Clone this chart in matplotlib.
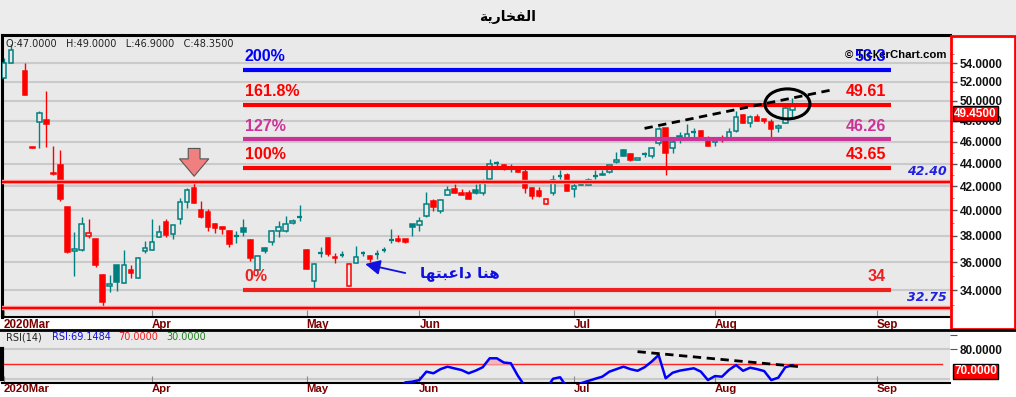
import numpy as np
import matplotlib.pyplot as plt
from matplotlib.patches import Rectangle, Ellipse
from matplotlib.lines import Line2D
from matplotlib.ticker import FixedLocator, FixedFormatter, NullFormatter

nan = np.nan

# daily bars (one slot per trading day, nan = empty slot)
opens = [52.44, 54.0, nan, 53.1, 45.55, 47.91, 48.08, 43.2, 43.9, 40.24,
         36.85, 36.9, 38.0, 37.73, 35.06, 34.3, 35.8, 34.52, 35.45, 34.85,
         36.8, 36.9, 37.85, 39.1, 38.1, 39.3, 40.68, 41.9, 40.0, 39.9,
         38.9, 38.7, 38.38, 37.95, 38.55, 37.66, 35.4, 37.05, 37.48, 38.33,
         38.38, 39.0, 39.45, 36.92, 34.64, 36.68, 37.8, 36.38, 36.5, 34.3,
         35.93, 36.63, 36.45, 36.58, 36.9, 37.64, 37.73, 37.73, 38.9, 38.83,
         39.52, 40.8, 39.93, 41.25, 41.8, 41.43, 41.4, 41.72, 41.43, 42.67,
         44.0, 43.9, 43.6, 43.7, 43.25, 41.9, 41.6, 40.55, 41.4, 42.9,
         42.95, 41.8, 42.17, 42.1, 42.85, 43.1, 43.25, 44.15, 45.27, 44.9,
         44.35, 44.88, 44.7, 45.85, 47.28, 45.45, 46.55, 46.4, 46.88, 47.0,
         46.25, 45.95, 46.23, 46.25, 47.0, 48.58, 47.85, 48.35, 48.15, 47.9,
         47.28, 47.84, 49.05]
highs = [54.55, 56.2, nan, 54.0, 45.55, 48.98, 51.0, 45.6, 45.2, 40.3,
         38.25, 39.5, 39.27, 37.75, 35.15, 35.06, 35.8, 36.9, 35.77, 36.4,
         37.6, 39.27, 38.85, 39.27, 38.85, 41.05, 41.85, 42.4, 40.8, 40.13,
         38.95, 38.72, 38.4, 38.33, 39.3, 37.7, 36.5, 37.1, 38.4, 39.17,
         39.57, 39.3, 40.4, 36.95, 35.9, 37.1, 37.85, 36.7, 36.85, 35.9,
         37.22, 36.85, 36.5, 36.9, 37.13, 38.5, 38.05, 37.75, 38.92, 39.5,
         41.5, 40.95, 40.9, 42.0, 42.23, 41.8, 41.66, 42.23, 42.67, 44.46,
         44.2, 43.95, 44.0, 43.75, 43.5, 41.95, 41.95, 40.97, 42.95, 43.4,
         43.15, 42.52, 42.5, 42.75, 43.4, 43.45, 43.9, 45.1, 45.3, 44.95,
         44.5, 45.05, 45.5, 47.4, 47.3, 46.3, 46.9, 47.75, 47.28, 47.1,
         46.55, 46.3, 46.6, 47.28, 49.0, 48.68, 48.58, 48.68, 48.17, 48.15,
         47.75, 49.7, 50.3]
lows = [52.44, 54.0, nan, 50.6, 45.45, 45.46, 45.55, 43.0, 40.75, 36.7,
        34.99, 36.84, 37.8, 35.65, 32.75, 33.83, 33.94, 34.5, 34.85, 34.85,
        36.7, 36.9, 37.85, 37.85, 37.7, 38.9, 40.2, 40.6, 39.35, 38.38,
        38.18, 38.12, 37.1, 37.44, 37.95, 36.07, 35.4, 36.65, 37.28, 37.85,
        38.25, 38.9, 39.17, 35.5, 33.94, 36.4, 36.45, 35.9, 36.35, 34.3,
        35.93, 36.47, 36.0, 36.2, 36.75, 37.4, 37.52, 37.43, 37.95, 38.33,
        39.5, 39.93, 39.77, 41.25, 41.43, 41.25, 40.9, 41.32, 41.25, 42.67,
        43.75, 43.45, 43.25, 43.25, 41.43, 40.9, 41.1, 40.55, 41.25, 42.6,
        41.6, 41.1, 42.1, 42.1, 42.6, 42.98, 43.15, 44.05, 44.7, 44.2,
        44.35, 44.6, 44.5, 45.7, 43.0, 44.93, 45.9, 46.4, 46.35, 46.4,
        45.58, 45.62, 46.0, 46.25, 46.9, 47.76, 47.43, 48.0, 47.8, 46.3,
        46.95, 47.84, 48.35]
closes = [54.0, 55.49, nan, 50.6, 45.45, 48.75, 47.66, 43.05, 40.9, 36.77,
          36.95, 38.9, 38.2, 35.8, 33.2, 34.45, 34.55, 35.75, 35.2, 36.33,
          37.05, 37.47, 38.3, 38.05, 38.85, 40.68, 41.72, 40.6, 39.45, 38.65,
          38.55, 38.48, 37.37, 38.0, 38.25, 36.3, 36.43, 36.84, 38.38, 38.7,
          38.87, 39.17, 39.5, 35.5, 35.88, 36.72, 36.6, 36.27, 36.54, 35.88,
          36.35, 36.67, 36.2, 36.62, 36.95, 37.68, 37.6, 37.47, 38.65, 39.17,
          40.55, 40.26, 40.85, 41.72, 41.43, 41.3, 40.92, 41.43, 42.38, 44.0,
          44.05, 43.6, 43.65, 43.25, 41.85, 41.2, 41.15, 40.95, 42.52, 42.95,
          41.63, 42.0, 42.1, 42.58, 42.88, 42.98, 43.9, 44.35, 44.7, 44.3,
          44.5, 44.92, 45.45, 47.18, 44.95, 46.0, 46.3, 46.7, 46.92, 46.45,
          45.62, 46.25, 46.2, 46.9, 48.35, 47.76, 48.35, 48.0, 47.95, 47.18,
          47.55, 49.25, 49.45]

# RSI(14) (values under ~57 are off-panel)
rsi = [nan] * 54 + [
    48, 50, 54, 57.5, 58, 59.1, 64.8, 63.7, 66.5, 68.2,
    67.0, 65.9, 63.7, 65.5, 67.8, 73.9, 73.9, 71.0, 70.5, 62.0,
    55.0, 52.0, 52.0, 53.0, 60.0, 61.0, 54.0, 55.0, 57.0, 58.5,
    60.0, 61.4, 64.8, 66.5, 68.2, 66.5, 65.4, 67.8, 71.6, 76.1,
    60.3, 64.1, 65.5, 66.3, 67.1, 64.8, 59.1, 61.8, 61.4, 66.0,
    69.3, 65.4, 67.5, 66.5, 65.2, 59.1, 60.7, 67.8, 69.15]

month_pos = [0, 21, 43, 59, 81, 101, 124]
month_lbl = ['2020Mar', 'Apr', 'May', 'Jun', 'Jul', 'Aug', 'Sep']

fib_pct = ['200%', '161.8%', '127%', '100%', '0%']
fib_val = [53.3, 49.61, 46.26, 43.65, 34.0]
fib_txt = ['53.3', '49.61', '46.26', '43.65', '34']
fib_col = ['#0000ff', '#ff0000', '#cc3399', '#ff0000', '#ee2020']

hi_level, lo_level = 42.40, 32.75
last_price = 49.45

W, H = 1016, 397
def fx(p): return p / W
def fy(p): return 1 - p / H

TEAL = '#008080'
RED = '#ff0000'
BG = '#e9e9e9'
DATE_C = '#7a0000'

fig = plt.figure(figsize=(10.16, 3.97), dpi=100, facecolor='#ececec')

# white strips (dates / price scale)
for (x0, y0, x1, y1) in [(0, 317, 950, 330), (0, 383, 1016, 397), (950, 35, 1016, 397)]:
    fig.add_artist(Rectangle((fx(x0), fy(y1)), fx(x1) - fx(x0), fy(y0) - fy(y1),
                             transform=fig.transFigure, fc='white', ec='none', zorder=-2))
fig.add_artist(Rectangle((fx(951), fy(329)), fx(1014.5) - fx(951), fy(36) - fy(329),
                         transform=fig.transFigure, fc='none', ec='#ff0000', lw=2, zorder=3))
fig.add_artist(Line2D([0, 1], [fy(330), fy(330)], transform=fig.transFigure, color='black', lw=2, zorder=3))

fig.text(0.5, fy(17), '\ufe94\ufef3\ufead\ufe8e\ufea8\ufed4\ufedf\ufe8d', ha='center', va='center',
         fontsize=10, fontweight='bold', family='DejaVu Sans')

ax = fig.add_axes([fx(2), fy(316.7), fx(950) - fx(2), fy(35) - fy(316.7)])
ax.set_facecolor(BG)
ax.set_yscale('log')
ax.set_ylim(32.2, 57.2)
ax.set_xlim(-0.3, 134.4)

# candles
prev = nan
for i in range(len(closes)):
    o, h, l, c = opens[i], highs[i], lows[i], closes[i]
    if np.isnan(c):
        continue
    col = TEAL if (np.isnan(prev) or c >= prev) else RED
    prev = c
    ax.vlines(i, l, h, color=col, lw=1, zorder=3)
    bot, top = min(o, c), max(o, c)
    if top - bot < 0.06:
        ax.hlines((o + c) / 2, i - 0.33, i + 0.33, color=col, lw=1.6, zorder=4)
        continue
    hollow = c > o
    ax.add_patch(Rectangle((i - 0.32, bot), 0.64, top - bot, fc=BG if hollow else col,
                           ec=col, lw=1.1, zorder=4))

# grid
for v in range(34, 56, 2):
    ax.axhline(v, color='#cacaca', lw=1.5, zorder=1)

# fibonacci levels
for p, v, t, c in zip(fib_pct, fib_val, fib_txt, fib_col):
    ax.hlines(v, 34, 126, color=c, lw=3, zorder=5)
    ax.annotate(p, (34.2, v), xytext=(0, 4), textcoords='offset points', color=c,
                fontsize=11.5, fontweight='bold', family='Liberation Sans', ha='left',
                va='bottom', zorder=6)
for p, v, t, c in zip(fib_pct, fib_val, fib_txt, fib_col):
    ax.annotate(t, (125.3, v), xytext=(0, 4), textcoords='offset points', color=c,
                fontsize=11.5, fontweight='bold', family='Liberation Sans', ha='right',
                va='bottom', zorder=8)

ax.text(0.996, 0.93, '\u00a9 TickerChart.com', transform=ax.transAxes, ha='right', va='center',
        fontsize=8.2, fontweight='bold', family='Liberation Sans', zorder=7)

for v in (hi_level, lo_level):
    ax.axhline(v, color='#ff9a9a', lw=3.2, zorder=5)
    ax.axhline(v, color=RED, lw=1.6, zorder=5)
    ax.annotate('%.2f' % v, (0.997, v), xycoords=('axes fraction', 'data'), xytext=(0, 3),
                textcoords='offset points', ha='right', va='bottom', color='#2020e0',
                fontsize=9, fontweight='bold', fontstyle='italic', family='DejaVu Sans', zorder=6)

# trend line on price
ax.plot([91, 118], [47.28, 51.2], color='black', lw=2, ls=(0, (3, 2)), zorder=7)

# pink down arrow over the April top
ax.annotate('', xy=(27, highs[27]), xytext=(0, 24), textcoords='offset points',
            arrowprops=dict(arrowstyle='simple,head_width=2.1,head_length=1.25,tail_width=0.85',
                            mutation_scale=10, fc='#f08080', ec='#555555', lw=0.8,
                            shrinkA=0, shrinkB=4), zorder=7)

# blue arrow and arabic note
ax.annotate('', xy=(51.3, 35.85), xytext=(57, 35.2),
            arrowprops=dict(arrowstyle='-|>,head_length=0.9,head_width=0.45', color='#1010e0',
                            lw=1.3, shrinkA=0, shrinkB=0), zorder=7)
ax.text(64.7, 35.2, '\ufe8e\ufeec\ufe98\ufe92\ufecb\ufe8d\ufea9 \ufe8e\ufee8\ufeeb', ha='center', va='center',
        color='#1010e0', fontsize=11, fontweight='bold', family='DejaVu Sans', zorder=7)

# circle at the last bars
fig.canvas.draw()
cx, cy = ax.transAxes.inverted().transform(ax.transData.transform((111.3, 49.7)))
ax.add_patch(Ellipse((cx, cy), 45 / 948, 30 / 281.7, transform=ax.transAxes, fc='none',
                     ec='black', lw=2.2, zorder=8))

ax.text(0.004, 0.985, 'O:47.0000   H:49.0000   L:46.9000   C:48.3500', transform=ax.transAxes,
        ha='left', va='top', fontsize=7, family='DejaVu Sans', color='#222222')

# axes styling
ax.yaxis.tick_right()
ax.yaxis.set_major_locator(FixedLocator(list(range(34, 56, 2))))
ax.yaxis.set_major_formatter(FixedFormatter(['%.4f' % v for v in range(34, 56, 2)]))
ax.yaxis.set_minor_locator(FixedLocator(list(range(33, 57, 2))))
ax.yaxis.set_minor_formatter(NullFormatter())
ax.tick_params(axis='y', which='major', direction='out', length=5, width=1, color='#555555',
               pad=2, labelsize=8.5, labelcolor='#111111')
ax.tick_params(axis='y', which='minor', direction='out', length=3, color='#777777')
for t in ax.get_yticklabels():
    t.set_fontweight('bold')
    t.set_family('Liberation Sans')
ax.set_xticks(month_pos)
ax.set_xticklabels(month_lbl)
ax.tick_params(axis='x', direction='in', length=5, color='#888888', pad=2,
               labelsize=8.4, labelcolor=DATE_C)
for t in ax.get_xticklabels():
    t.set_ha('left')
    t.set_fontweight('bold')
    t.set_family('Liberation Sans')
for s in ('top', 'left'):
    ax.spines[s].set_color('black')
    ax.spines[s].set_linewidth(2.2)
ax.spines['bottom'].set_color('black')
ax.spines['bottom'].set_linewidth(1.5)
ax.spines['right'].set_visible(False)

ax.annotate('%.4f' % last_price, (1.0, last_price), xycoords=('axes fraction', 'data'),
            xytext=(3, -1), textcoords='offset points', ha='left', va='top', color='white',
            fontsize=8.5, fontweight='bold', family='Liberation Sans',
            bbox=dict(boxstyle='square,pad=0.12', fc=RED, ec='black', lw=1), annotation_clip=False, zorder=9)

# RSI panel
rax = fig.add_axes([fx(2), fy(383), fx(950) - fx(2), fy(330) - fy(383)])
rax.set_facecolor(BG)
rax.set_xlim(-0.3, 134.4)
rax.set_ylim(57.1, 93.1)
x = np.arange(len(rsi))
r = np.array(rsi, dtype=float)
rax.axhline(80, color='#cacaca', lw=1.5, zorder=1)
rax.axhline(60, color='#cacaca', lw=1.5, zorder=1)
rax.axhline(70, xmax=0.992, color='#ff2020', lw=1, zorder=2)
rax.fill_between(x, r, 70, where=r > 70, interpolate=True, color='#f0b8b8', zorder=2)
rax.plot(x, r, color='#0000ff', lw=1.8, zorder=3)
rax.plot([90, 113], [78.4, 68.2], color='black', lw=2, ls=(0, (3, 2)), zorder=4)

rax.text(0.004, 0.86, 'RSI(14)', transform=rax.transAxes, fontsize=7, color='#222222', va='center')
rax.text(0.053, 0.86, 'RSI:69.1484', transform=rax.transAxes, fontsize=7, color='#1010e0', va='center')
rax.text(0.123, 0.86, '70.0000', transform=rax.transAxes, fontsize=7, color='#ee2020', va='center')
rax.text(0.173, 0.86, '30.0000', transform=rax.transAxes, fontsize=7, color='#208020', va='center')

rax.yaxis.tick_right()
rax.set_yticks([80, 90])
rax.set_yticklabels(['80.0000', ''])
rax.tick_params(axis='y', direction='out', length=5, color='#555555', pad=2, labelsize=8.5,
                labelcolor='#111111')
for t in rax.get_yticklabels():
    t.set_fontweight('bold')
    t.set_family('Liberation Sans')
rax.set_xticks(month_pos)
rax.set_xticklabels(month_lbl)
rax.tick_params(axis='x', direction='in', length=5, color='#888888', pad=0.5,
                labelsize=8.2, labelcolor=DATE_C)
for t in rax.get_xticklabels():
    t.set_ha('left')
    t.set_fontweight('bold')
    t.set_family('Liberation Sans')
for s in ('top', 'right', 'left'):
    rax.spines[s].set_visible(False)
rax.spines['bottom'].set_color('black')
rax.spines['bottom'].set_linewidth(1.5)
rax.plot([-0.3, -0.3], [60, 80], color='black', lw=3, clip_on=False, zorder=5)
rax.annotate('70.0000', (1.0, 70), xycoords=('axes fraction', 'data'), xytext=(3, -1),
             textcoords='offset points', ha='left', va='top', color='white', fontsize=8.5,
             fontweight='bold', family='Liberation Sans',
             bbox=dict(boxstyle='square,pad=0.12', fc=RED, ec='black', lw=1), annotation_clip=False)

fig.savefig('out.png', dpi=100, facecolor=fig.get_facecolor())
